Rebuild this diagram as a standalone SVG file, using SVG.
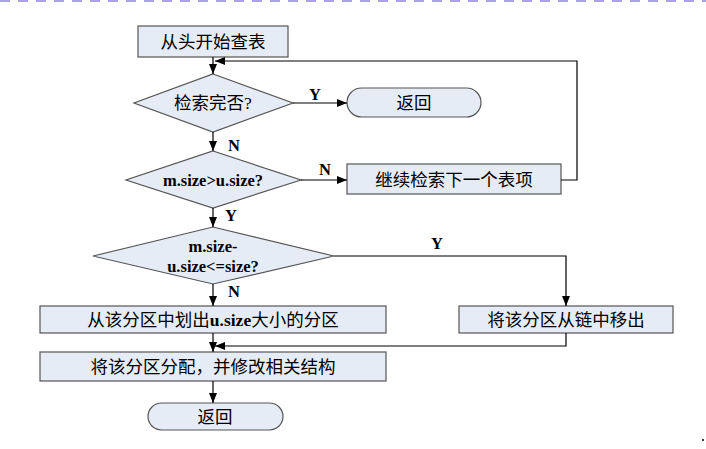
<svg xmlns="http://www.w3.org/2000/svg" width="706" height="449" viewBox="0 0 706 449">
<style>
.n{fill:#e6ecf6;stroke:#555;stroke-width:1.2}
.t{font-family:"Liberation Serif","Noto Sans CJK SC",serif;font-size:17.5px;fill:#000;text-anchor:middle}
.b{font-family:"Liberation Serif","Noto Sans CJK SC",serif;font-size:16.5px;font-weight:bold;fill:#000;text-anchor:middle}
.c{fill:none;stroke:#000;stroke-width:1.2;marker-end:url(#a)}
</style>
<defs><marker id="a" markerWidth="10" markerHeight="8" refX="10" refY="4" orient="auto" markerUnits="userSpaceOnUse"><path d="M0,0L10,4L0,8z" fill="#000"/></marker></defs>
<line x1="0" y1="1" x2="706" y2="1" stroke="#a9a0f0" stroke-width="2" stroke-dasharray="10,8"/>
<g id="start"><rect class="n" x="138" y="26" width="150" height="31"/><text class="t" x="213" y="48">从头开始查表</text></g>
<g id="d1"><polygon class="n" points="213,74 293,103 213,132 134,103"/><text class="t" x="213" y="109">检索完否?</text></g>
<g id="ret1"><rect class="n" x="347" y="88" width="134" height="29" rx="14.5"/><text class="t" x="414" y="109">返回</text></g>
<g id="d2"><polygon class="n" points="213,151 301,180 213,208 126,180"/><text class="b" x="213" y="186">m.size&gt;u.size?</text></g>
<g id="next"><rect class="n" x="347" y="164" width="214" height="30"/><text class="t" x="454" y="186">继续检索下一个表项</text></g>
<g id="d3"><polygon class="n" points="213,227 334,256 213,284 93,256"/><text class="b" x="213" y="252">m.size-</text><text class="b" x="213" y="272">u.size&lt;=size?</text></g>
<g id="split"><rect class="n" x="40" y="306" width="346" height="27"/><text class="t" x="213" y="326">从该分区中划出<tspan font-weight="bold">u.size</tspan>大小的分区</text></g>
<g id="remove"><rect class="n" x="459" y="306" width="214" height="27"/><text class="t" x="566" y="326">将该分区从链中移出</text></g>
<g id="alloc"><rect class="n" x="40" y="352" width="346" height="29"/><text class="t" x="213" y="373">将该分区分配，并修改相关结构</text></g>
<g id="ret2"><rect class="n" x="148" y="403" width="135" height="27" rx="13.5"/><text class="t" x="215" y="423">返回</text></g>
<g id="connectors">
<path class="c" d="M213,57V74"/>
<path class="c" d="M561,180H577V61H215"/>
<path class="c" d="M293,103H347"/>
<path class="c" d="M213,132V151"/>
<path class="c" d="M301,180H347"/>
<path class="c" d="M213,208V227"/>
<path class="c" d="M334,256H566V306"/>
<path class="c" d="M213,284V306"/>
<path class="c" d="M213,333V352"/>
<path class="c" d="M566,333V346H215"/>
<path class="c" d="M213,381V403"/>
<text class="b" x="315" y="100">Y</text>
<text class="b" x="234" y="151">N</text>
<text class="b" x="325" y="175">N</text>
<text class="b" x="231" y="221">Y</text>
<text class="b" x="437" y="249">Y</text>
<text class="b" x="234" y="297">N</text>
</g>
<circle cx="703" cy="440" r="1" fill="#000"/>
</svg>
